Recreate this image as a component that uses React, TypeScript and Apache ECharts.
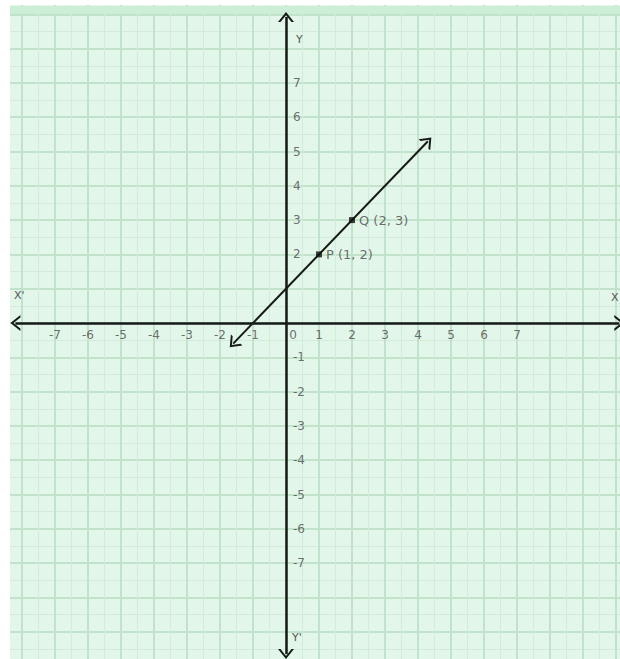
import React, { useEffect, useRef } from "react";
import * as echarts from "echarts";

// tick labels shown on the axes
const xTickLabels = [-7, -6, -5, -4, -3, -2, -1, 0, 1, 2, 3, 4, 5, 6, 7];
const yTickLabels = [-7, -6, -5, -4, -3, -2, -1, 2, 3, 4, 5, 6, 7];
// plotted points
const pointNames = ["P", "Q"];
const pointX = [1, 2];
const pointY = [2, 3];
// the line y = x + 1 (drawn end values)
const lineX = [-1.6, 4.3];
const lineY = [-0.6, 5.3];
// axis extents (arrow ends)
const xAxisEnds = [-8.2, 10.1];
const yAxisEnds = [-9.65, 8.92];
// visible value ranges
const xRange = [-9, 11];
const yRange = [-10, 10];

const chevron = "path://M0,10 L8,0 L16,10 L13.5,10 L8,3.1 L2.5,10 Z";
const FONT = "DejaVu Sans, Verdana, sans-serif";
const ARROW = [16, 10];
const TXT = "#4a4a4a";

export default function App() {
  const ref = useRef<HTMLDivElement>(null);
  useEffect(() => {
    if (!ref.current) return;
    const chart = echarts.init(ref.current, null, { renderer: "svg" });
    const end = (x: number, y: number, extra: any = {}) => ({
      coord: [x, y],
      symbol: chevron,
      symbolSize: ARROW,
      ...extra,
    });
    const splitStyle = { show: true, lineStyle: { color: "#c3e2cb", width: 2 } };
    const minorStyle = { show: true, lineStyle: { color: "#d3ecd9", width: 1 } };
    const option: any = {
      animation: false,
      backgroundColor: "#ffffff",
      grid: {
        left: -11,
        right: -29,
        top: -20,
        bottom: -7,
        outerBoundsMode: "none",
        containLabel: false,
        show: true,
        backgroundColor: "#e3f6ea",
        borderWidth: 0,
      },
      xAxis: {
        type: "value",
        min: xRange[0],
        max: xRange[1],
        interval: 1,
        axisLine: { show: false },
        axisTick: { show: false },
        axisLabel: { show: false },
        splitLine: splitStyle,
        minorTick: { show: false, splitNumber: 2 },
        minorSplitLine: minorStyle,
      },
      yAxis: {
        type: "value",
        min: yRange[0],
        max: yRange[1],
        interval: 1,
        axisLine: { show: false },
        axisTick: { show: false },
        axisLabel: { show: false },
        splitLine: splitStyle,
        minorTick: { show: false, splitNumber: 2 },
        minorSplitLine: minorStyle,
      },
      series: [
        {
          // x-axis tick labels
          type: "scatter",
          silent: true,
          symbolSize: 0,
          z: 4,
          data: xTickLabels.map((v) => ({
            value: [v, 0],
            label: v === 0 ? { offset: [7, 0] } : undefined,
          })),
          label: {
            show: true,
            position: "bottom",
            distance: 6,
            fontSize: 12,
            fontFamily: FONT,
            color: TXT,
            formatter: (p: any) => String(p.value[0]),
          },
        },
        {
          // y-axis tick labels
          type: "scatter",
          silent: true,
          symbolSize: 0,
          z: 4,
          data: yTickLabels.map((v) => [0, v]),
          label: {
            show: true,
            position: "right",
            distance: 7,
            fontSize: 12,
            fontFamily: FONT,
            color: TXT,
            formatter: (p: any) => String(p.value[1]),
          },
        },
        {
          type: "scatter",
          z: 5,
          symbol: "rect",
          symbolSize: 6,
          itemStyle: { color: "#111111" },
          silent: true,
          data: pointNames.map((n, i) => ({ name: n, value: [pointX[i], pointY[i]] })),
          label: {
            show: true,
            position: "right",
            distance: 4,
            fontSize: 13,
            fontFamily: FONT,
            color: TXT,
            formatter: (p: any) => `${p.name} (${p.value[0]}, ${p.value[1]})`,
          },
          markLine: {
            silent: true,
            animation: false,
            symbol: [chevron, chevron],
            symbolSize: 14,
            label: { show: false },
            emphasis: { disabled: true },
            lineStyle: { type: "solid", color: "#151a17", width: 2.5 },
            data: [
              [end(xAxisEnds[0], 0), end(xAxisEnds[1], 0)],
              [end(0, yAxisEnds[0]), end(0, yAxisEnds[1])],
              [end(lineX[0], lineY[0], { lineStyle: { width: 2 } }), end(lineX[1], lineY[1])],
            ],
          },
        },
      ],
      graphic: [
        { type: "rect", z: 1, shape: { x: 10, y: 6, width: 610, height: 8 }, style: { fill: "#cdeed6" }, silent: true },
        { type: "rect", z: 100, shape: { x: 0, y: 0, width: 10, height: 659 }, style: { fill: "#ffffff" }, silent: true },
        { type: "rect", z: 100, shape: { x: 0, y: 0, width: 620, height: 5 }, style: { fill: "#ffffff" }, silent: true },
        { type: "text", z: 50, x: 14, y: 290, style: { text: "X'", fontSize: 11, fontFamily: FONT, fill: "#555" } },
        { type: "text", z: 50, x: 611, y: 292, style: { text: "X", fontSize: 11, fontFamily: FONT, fill: "#555" } },
        { type: "text", z: 50, x: 296, y: 34, style: { text: "Y", fontSize: 11, fontFamily: FONT, fill: "#555" } },
        { type: "text", z: 50, x: 292, y: 632, style: { text: "Y'", fontSize: 11, fontFamily: FONT, fill: "#555" } },
      ],
    };
    chart.setOption(option);
    return () => chart.dispose();
  }, []);
  return (
    <div
      ref={ref}
      style={{ position: "fixed", left: 0, top: 0, width: 620, height: 659 }}
    />
  );
}
